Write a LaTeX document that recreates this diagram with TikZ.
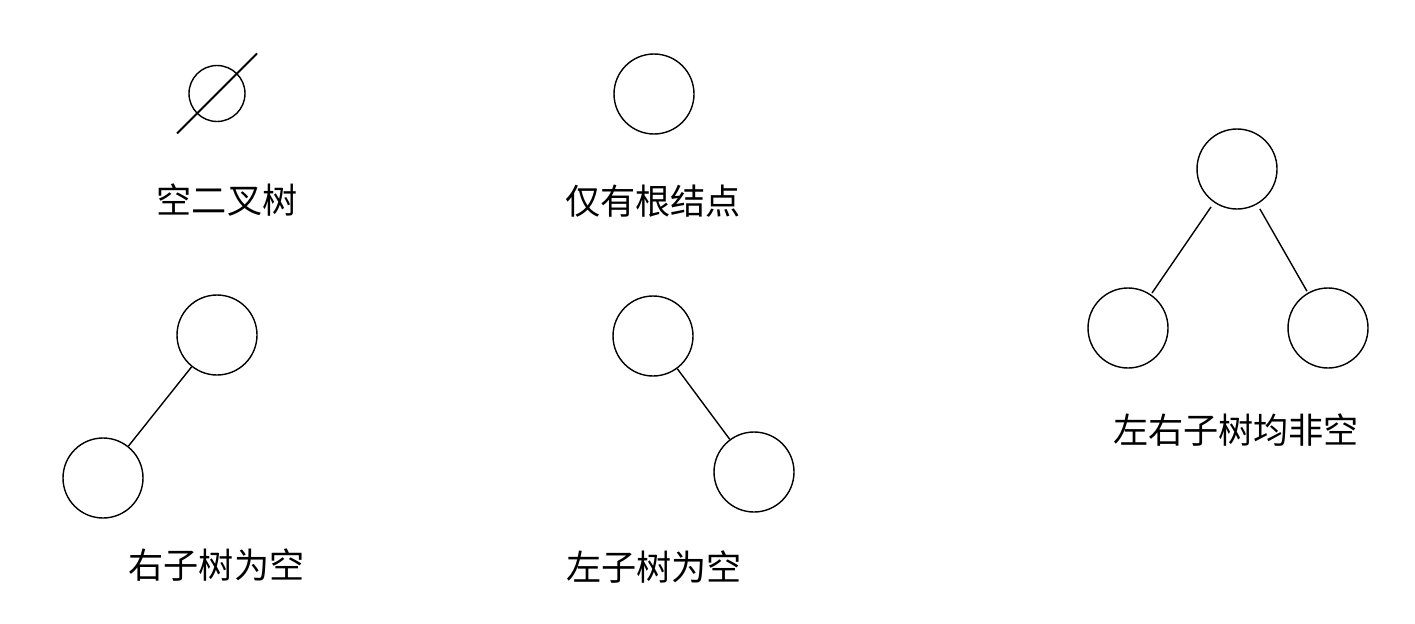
\documentclass[tikz,border=0pt]{standalone}
\usepackage{fontspec}
\setmainfont{Noto Sans CJK SC}
\tikzset{
  vertex/.style = {draw, circle, line width = .8pt, inner sep = 0pt, minimum size = 1.6cm},
  nullvertex/.style = {draw, circle, line width = .8pt, inner sep = 0pt, minimum size = 1.12cm},
  caption/.style = {font = \fontsize{20pt}{24pt}\selectfont, inner sep = 0pt}
}
\begin{document}
\begin{tikzpicture}
  \useasboundingbox (0, 0) rectangle (28.3, 12.46);

  %%empty
  \node[nullvertex](e) at (4.34, 10.59) {};
    \draw[line width = 1.1pt]([shift = {(-.8, -.8)}]e.center) to ([shift = {(.8, .8)}]e.center);
  \node[caption](ecap) at (4.54, 8.46) {空二叉树};

  %%root only
  \node[vertex](r) at (13.08, 10.58) {};
  \node[caption](rcap) at (13.06, 8.44) {仅有根结点};

  %%right empty
  \node[vertex](a1) at (4.34, 5.76) {};
    \node[vertex](a2) at (2.06, 2.90) {};
    \draw[line width = .8pt](a1) to (a2);
  \node[caption](acap) at (4.33, 1.16) {右子树为空};

  %%left empty
  \node[vertex](b1) at (13.06, 5.74) {};
    \node[vertex](b2) at (15.08, 3.02) {};
    \draw[line width = .8pt](b1) to (b2);
  \node[caption](bcap) at (13.08, 1.12) {左子树为空};

  %%both
  \node[vertex](c1) at (24.74, 9.08) {};
    \node[vertex](c2) at (22.56, 5.90) {};
    \node[vertex](c3) at (26.56, 5.90) {};
    \draw[line width = .8pt, shorten <= 3pt, shorten >= 1pt](c1) to (c2);
    \draw[line width = .8pt, shorten <= 3pt, shorten >= 1pt](c1) to (c3);
  \node[caption](ccap) at (24.72, 3.86) {左右子树均非空};

\end{tikzpicture}
\end{document}
